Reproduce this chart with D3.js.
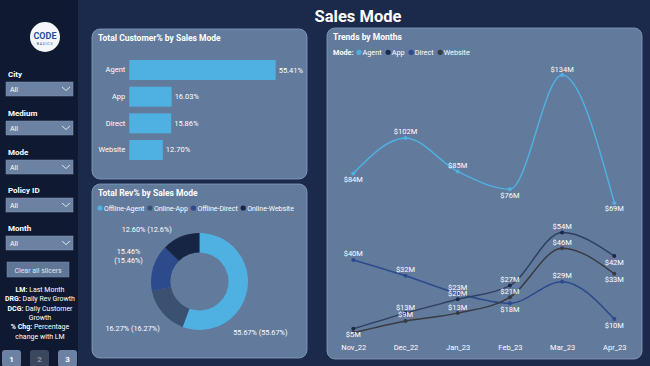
<!DOCTYPE html>
<html>
<head>
<meta charset="utf-8">
<script src="https://cdn.jsdelivr.net/npm/d3@7"></script>
<style>
  html, body { margin: 0; padding: 0; background: #1b2a4a; }
  svg { display: block; font-family: Roboto, "Open Sans", sans-serif; }
</style>
</head>
<body>
<div id="chart"></div>
<script>
// ---- data ----
const modes = ["Agent", "App", "Direct", "Website"];
const customerPct = [55.41, 16.03, 15.86, 12.70];

const revLabels = ["Offline-Agent", "Online-App", "Offline-Direct", "Online-Website"];
const revPct = [55.67, 16.27, 15.46, 12.60];

const months = ["Nov_22", "Dec_22", "Jan_23", "Feb_23", "Mar_23", "Apr_23"];
const agentRev = [84, 102, 85, 76, 134, 69];
const appRev = [5, 13, 20, 27, 54, 42];
const directRev = [40, 32, 23, 18, 29, 10];
const websiteRev = [3, 9, 13, 21, 46, 33];

const slicers = ["City", "Medium", "Mode", "Policy ID", "Month"];

const width = 650, height = 366;
const colors = { Agent: "#4fb0e2", App: "#1a2a4a", Direct: "#2c4a8c", Website: "#383b40" };
const donutColors = ["#4fb0e2", "#3a5172", "#2c4a8c", "#172544"];
const panelFill = "#627a9c";

const svg = d3.select("#chart").append("svg")
  .attr("width", width)
  .attr("height", height);

svg.append("rect").attr("width", width).attr("height", height).attr("fill", "#1b2a4a");

// ---- sidebar ----
svg.append("rect").attr("width", 78).attr("height", height).attr("fill", "#0f1a32");

svg.append("circle").attr("cx", 45).attr("cy", 37).attr("r", 15).attr("fill", "#f4f6fa");
svg.append("text").attr("x", 45).attr("y", 39).attr("text-anchor", "middle")
  .attr("font-size", 9).attr("font-weight", 700).attr("fill", "#1f4f9a").text("CODE");
svg.append("text").attr("x", 45).attr("y", 45).attr("text-anchor", "middle")
  .attr("font-size", 3.5).attr("letter-spacing", 0.8).attr("fill", "#1f4f9a").text("BASICS");

const slicerY = [74, 113, 152, 190, 228];
slicers.forEach((name, i) => {
  const y = slicerY[i];
  svg.append("text").attr("x", 8).attr("y", y + 3)
    .attr("font-size", 8).attr("font-weight", 700).attr("fill", "#fff").text(name);
  svg.append("rect").attr("x", 6).attr("y", y + 8).attr("width", 67).attr("height", 14)
    .attr("fill", "#6c82a3").attr("stroke", "#8196b4").attr("stroke-width", 0.5);
  svg.append("text").attr("x", 10).attr("y", y + 18)
    .attr("font-size", 7).attr("fill", "#fff").text("All");
  svg.append("path")
    .attr("d", `M${62},${y + 13} l4,3.5 l4,-3.5`)
    .attr("fill", "none").attr("stroke", "#e8eef6").attr("stroke-width", 0.9);
});

svg.append("rect").attr("x", 7).attr("y", 262).attr("width", 62).attr("height", 15)
  .attr("fill", "#5f7697").attr("stroke", "#7a8fae").attr("stroke-width", 0.5);
svg.append("text").attr("x", 38).attr("y", 272.5).attr("text-anchor", "middle")
  .attr("font-size", 7).attr("fill", "#dfe6f0").text("Clear all slicers");

const notes = [
  [["LM: ", true], ["Last Month", false]],
  [["DRG: ", true], ["Daily Rev Growth", false]],
  [["DCG: ", true], ["Daily Customer", false]],
  [["Growth", false]],
  [["% Chg: ", true], ["Percentage", false]],
  [["change with LM", false]]
];
notes.forEach((parts, i) => {
  const t = svg.append("text").attr("x", 40).attr("y", 292 + i * 9.3)
    .attr("text-anchor", "middle").attr("font-size", 7).attr("fill", "#fff");
  parts.forEach(([s, b]) => t.append("tspan").attr("font-weight", b ? 700 : 400).text(s));
});

const pageBtns = [{ x: 2, label: "1", on: true }, { x: 30, label: "2", on: false }, { x: 58, label: "3", on: true }];
pageBtns.forEach(b => {
  svg.append("rect").attr("x", b.x).attr("y", 350).attr("width", 19).attr("height", 17).attr("rx", 3)
    .attr("fill", b.on ? "#6c82a3" : "#3a475c");
  svg.append("text").attr("x", b.x + 9.5).attr("y", 362).attr("text-anchor", "middle")
    .attr("font-size", 8).attr("font-weight", 700).attr("fill", b.on ? "#fff" : "#8a93a3").text(b.label);
});

// ---- title ----
svg.append("text").attr("x", 358).attr("y", 22).attr("text-anchor", "middle")
  .attr("font-size", 16.5).attr("font-weight", 700).attr("fill", "#fff").text("Sales Mode");

function panel(x, y, w, h, title) {
  svg.append("rect").attr("x", x).attr("y", y).attr("width", w).attr("height", h).attr("rx", 8)
    .attr("fill", panelFill).attr("stroke", "#8aa0bf").attr("stroke-width", 0.8);
  svg.append("text").attr("x", x + 6).attr("y", y + 12)
    .attr("font-size", 8.5).attr("font-weight", 700).attr("fill", "#fff").text(title);
}

// ---- bar chart ----
panel(92, 29, 215, 150, "Total Customer% by Sales Mode");

const xBar = d3.scaleLinear().domain([0, d3.max(customerPct)]).range([129.3, 275.7]);
const yBar = d3.scaleBand().domain(modes).range([56.7, 163.3]).paddingInner(0.25).paddingOuter(0.125);

svg.append("g").selectAll("rect")
  .data(modes)
  .enter().append("rect")
  .attr("x", xBar(0))
  .attr("y", d => yBar(d))
  .attr("width", (d, i) => xBar(customerPct[i]) - xBar(0))
  .attr("height", yBar.bandwidth())
  .attr("fill", "#4fb0e2");

const barAxis = svg.append("g")
  .attr("transform", `translate(${xBar(0)},0)`)
  .call(d3.axisLeft(yBar).tickSize(0).tickPadding(4));
barAxis.select(".domain").remove();
barAxis.selectAll("text").attr("font-size", 7.5).attr("fill", "#fff")
  .attr("font-family", "Roboto, sans-serif");

svg.append("g").selectAll("text")
  .data(modes)
  .enter().append("text")
  .attr("x", (d, i) => xBar(customerPct[i]) + 3)
  .attr("y", d => yBar(d) + yBar.bandwidth() / 2 + 2.5)
  .attr("font-size", 7.5).attr("fill", "#fff")
  .text((d, i) => customerPct[i].toFixed(2) + "%");

// ---- donut ----
panel(92, 184, 215, 174, "Total Rev% by Sales Mode");

let lx = 97;
revLabels.forEach((lab, i) => {
  svg.append("circle").attr("cx", lx + 3).attr("cy", 208).attr("r", 2.6).attr("fill", donutColors[i]);
  const t = svg.append("text").attr("x", lx + 7).attr("y", 210.5)
    .attr("font-size", 7).attr("fill", "#fff").text(lab);
  lx += t.node().getComputedTextLength() + 9.5;
});

const cx = 199.5, cy = 281.5;
const pie = d3.pie().sort(null).value(d => d);
const arcs = pie(revPct);
const arc = d3.arc().innerRadius(29).outerRadius(48.5);
const labelArc = d3.arc().innerRadius(72).outerRadius(72);

const donut = svg.append("g").attr("transform", `translate(${cx},${cy})`);
donut.selectAll("path")
  .data(arcs)
  .enter().append("path")
  .attr("d", arc)
  .attr("fill", (d, i) => donutColors[i]);

// label nudges (Power BI style placement)
const labelNudge = [[-10, 38], [-12, 0], [-2, -5], [-25, 14]];
arcs.forEach((a, i) => {
  const [px, py] = labelArc.centroid(a);
  const x = cx + px + labelNudge[i][0], y = cy + py + labelNudge[i][1];
  const txt = `${revPct[i].toFixed(2)}%`;
  const full = `(${d3.format("")(revPct[i])}%)`;
  if (i === 2) {
    svg.append("text").attr("x", x).attr("y", y - 2).attr("text-anchor", "middle")
      .attr("font-size", 7.3).attr("fill", "#fff").text(txt);
    svg.append("text").attr("x", x).attr("y", y + 7).attr("text-anchor", "middle")
      .attr("font-size", 7.3).attr("fill", "#fff").text(full);
  } else {
    svg.append("text").attr("x", x).attr("y", y + 2.5).attr("text-anchor", "middle")
      .attr("font-size", 7.3).attr("fill", "#fff").text(`${txt} ${full}`);
  }
});

// ---- line chart ----
panel(327, 28, 315, 331, "Trends by Months");

svg.append("text").attr("x", 333).attr("y", 55)
  .attr("font-size", 7.3).attr("font-weight", 700).attr("fill", "#fff").text("Mode:");
let mx = 356;
modes.forEach(m => {
  svg.append("circle").attr("cx", mx + 3).attr("cy", 52.3).attr("r", 2.6).attr("fill", colors[m]);
  const t = svg.append("text").attr("x", mx + 6.5).attr("y", 55)
    .attr("font-size", 7.3).attr("fill", "#fff").text(m);
  mx += t.node().getComputedTextLength() + 10;
});

const xLine = d3.scalePoint().domain(months).range([353.3, 614.3]);
const yLine = d3.scaleLinear().domain([0, 134]).range([338.7, 75]);

const series = [
  { key: "Direct", values: directRev, place: ["a", "a", "a", "b", "a", "b"] },
  { key: "Website", values: websiteRev, place: [null, "a", "a", "a", "a", "b"] },
  { key: "App", values: appRev, place: ["b", "a", "a", "a", "a", "b"] },
  { key: "Agent", values: agentRev, place: ["b", "a", "a", "b", "a", "b"] }
];

const line = d3.line()
  .x((d, i) => xLine(months[i]))
  .y(d => yLine(d))
  .curve(d3.curveMonotoneX);

series.forEach(s => {
  svg.append("path")
    .datum(s.values)
    .attr("d", line)
    .attr("fill", "none")
    .attr("stroke", s.key === "App" ? "#2d3f5e" : colors[s.key])
    .attr("stroke-width", 1.5);
  svg.append("g").selectAll("circle")
    .data(s.values)
    .enter().append("circle")
    .attr("cx", (d, i) => xLine(months[i]))
    .attr("cy", d => yLine(d))
    .attr("r", 2)
    .attr("fill", colors[s.key]);
});

series.forEach(s => {
  const pts = s.values.map((v, i) => ({ v, month: months[i], place: s.place[i] }))
    .filter(p => p.place !== null);
  svg.append("g").selectAll("text")
    .data(pts)
    .enter().append("text")
    .attr("x", p => xLine(p.month))
    .attr("y", p => yLine(p.v) + (p.place === "a" ? -3.5 : 8.5))
    .attr("text-anchor", "middle")
    .attr("font-size", 7.5)
    .attr("fill", "#fff")
    .text(p => `$${p.v}M`);
});

const xAxis = svg.append("g")
  .attr("transform", "translate(0,338)")
  .call(d3.axisBottom(xLine).tickSize(0).tickPadding(7));
xAxis.select(".domain").remove();
xAxis.selectAll("text").attr("font-size", 7.5).attr("fill", "#fff")
  .attr("font-family", "Roboto, sans-serif");
</script>
</body>
</html>
